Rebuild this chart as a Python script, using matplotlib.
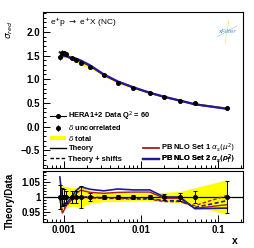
import numpy as np
import matplotlib
matplotlib.use("Agg")
import matplotlib.pyplot as plt
from matplotlib.lines import Line2D
from matplotlib.patches import Patch
from matplotlib.legend_handler import HandlerTuple
from matplotlib.ticker import MultipleLocator, LogLocator, FixedLocator, FixedFormatter, NullFormatter

plt.rcParams['font.family'] = ['Liberation Sans', 'DejaVu Sans']
plt.rcParams['mathtext.fontset'] = 'dejavusans'

# HERA1+2 NC e+p, Q2 = 60
x = [0.00089, 0.00096, 0.001, 0.00106, 0.00126, 0.00143, 0.00166, 0.0022,
     0.0033, 0.005, 0.008, 0.013, 0.02, 0.032, 0.05, 0.13]
sigma = [1.47, 1.56, 1.55, 1.53, 1.45, 1.41, 1.35, 1.26,
         1.08, 0.93, 0.81, 0.70, 0.63, 0.55, 0.49, 0.39]
err_unc = [0.04, 0.03, 0.025, 0.02, 0.02, 0.02, 0.035, 0.012,
           0.008, 0.007, 0.007, 0.007, 0.01, 0.012, 0.02, 0.052]
err_tot = [0.045, 0.04, 0.035, 0.035, 0.03, 0.03, 0.035, 0.02,
           0.015, 0.015, 0.013, 0.013, 0.015, 0.018, 0.03, 0.056]

# theory / data
set1 = [1.00, 0.948, 0.955, 0.97, 0.99, 1.01, 1.022, 1.015,
        1.012, 1.015, 1.016, 1.016, 0.996, 0.996, 0.963, 0.975]
set2 = [1.065, 0.985, 0.97, 0.975, 1.0, 1.02, 1.033, 1.025,
        1.02, 1.026, 1.023, 1.023, 1.0, 1.0, 0.962, 0.964]
set1_shift = [0.99, 0.95, 0.955, 0.97, 0.99, 0.998, 0.998, 0.997,
              0.995, 0.995, 0.993, 0.993, 0.985, 0.985, 0.972, 1.005]
set2_shift = [1.0, 0.975, 0.97, 0.98, 0.995, 1.0, 1.0, 1.0,
              0.997, 0.997, 0.995, 0.995, 0.988, 0.988, 0.966, 0.988]

RED = '#b0191e'
BLUE = '#1c1c9c'

x = np.array(x)
sigma = np.array(sigma)
err_unc = np.array(err_unc)
err_tot = np.array(err_tot)

fig = plt.figure(figsize=(2.55, 2.48), dpi=100)
ax1 = fig.add_axes([0.169, 0.323, 0.784, 0.629])
ax2 = fig.add_axes([0.169, 0.105, 0.784, 0.205])

# main panel
ax1.fill_between(x, sigma * (1 - err_tot), sigma * (1 + err_tot), color='#ffff00', lw=0)
ax1.plot(x, sigma * np.array(set1), color=RED, lw=1.4)
ax1.plot(x, sigma * np.array(set2), color=BLUE, lw=1.6)
ax1.errorbar(x, sigma, yerr=sigma * err_unc, fmt='o', color='k', ms=2.6, lw=0.7, capsize=0)

ax1.set_xscale('log')
ax1.set_xlim(5.4e-4, 0.21)
ax1.set_ylim(-0.87, 2.42)
ax1.yaxis.set_major_locator(MultipleLocator(0.5))
ax1.yaxis.set_minor_locator(MultipleLocator(0.1))
ax1.xaxis.set_major_locator(LogLocator(base=10))
ax1.xaxis.set_minor_locator(LogLocator(base=10, subs=np.arange(2, 10)))
ax1.xaxis.set_major_formatter(NullFormatter())
ax1.xaxis.set_minor_formatter(NullFormatter())

ax1.text(0.035, 0.936, r'e$^{+}$p $\rightarrow$ e$^{+}$X (NC)', transform=ax1.transAxes,
         fontsize=6, va='center', ha='left')

# xFitter logo
ax1.text(0.92, 0.875, 'xFitter', transform=ax1.transAxes, fontsize=4.5, style='italic',
         color='#4a9ad8', ha='center', va='center')
ax1.plot([0.87, 0.97], [0.84, 0.91], transform=ax1.transAxes, color='#9ccbef', lw=0.5)
ax1.plot([0.91, 0.93], [0.80, 0.95], transform=ax1.transAxes, color='#f2e27a', lw=0.5)

# legend: one entry per row so the rows sit where the reference has them
LEG = dict(loc='center left', frameon=False, prop={'size': 5.4, 'weight': 'bold'},
           handlelength=2.1, handletextpad=0.35, borderpad=0, borderaxespad=0,
           handleheight=0.6)
h_data = Line2D([], [], color='k', marker='o', ms=2.6, lw=0.8)
h_unc = (Line2D([], [], color='k', marker='|', ms=5, mew=0.8, ls='none'),
         Line2D([], [], color='k', marker='o', ms=2.6, ls='none'))
h_tot = Patch(color='#ffff00', lw=0)
h_th = Line2D([], [], color='k', lw=1.0)
h_sh = Line2D([], [], color='k', lw=1.0, ls='--', dashes=(2.5, 1.5))
h_r = Line2D([], [], color=RED, lw=1.3)
h_b = Line2D([], [], color=BLUE, lw=1.6)
entries = [
    (h_data, r'HERA1+2 Data Q$^{2}$ = 60', 0.035, 0.33),
    (h_unc, r'$\delta$ uncorrelated', 0.035, 0.258),
    (h_tot, r'$\delta$ total', 0.035, 0.19),
    (h_th, 'Theory', 0.035, 0.124),
    (h_sh, 'Theory + shifts', 0.035, 0.055),
    (h_r, r'PB NLO Set 1 $\alpha_s(\mu^2)$', 0.5, 0.128),
    (h_b, r'PB NLO Set 2 $\alpha_s(p_T^2)$', 0.5, 0.052),
]
for h, lab, lx, ly in entries:
    leg = ax1.legend([h], [lab], handler_map={tuple: HandlerTuple(ndivide=1)},
                     bbox_to_anchor=(lx, ly), **LEG)
    ax1.add_artist(leg)

# ratio panel
ax2.fill_between(x, 1 - err_tot, 1 + err_tot, color='#ffff00', lw=0)
ax2.axhline(1, color='k', lw=0.9)
ax2.plot(x, set1, color=RED, lw=1.0)
ax2.plot(x, set1_shift, color=RED, lw=1.0, ls='--', dashes=(2.5, 1.5))
ax2.plot(x, set2, color=BLUE, lw=1.2)
ax2.plot(x, set2_shift, color=BLUE, lw=1.2, ls='--', dashes=(2.5, 1.5))
ax2.errorbar(x, np.ones_like(x), yerr=err_unc, fmt='o', color='k', ms=2.6, lw=0.7,
             capsize=1.5, capthick=0.7)

ax2.set_xscale('log')
ax2.set_xlim(5.4e-4, 0.21)
ax2.set_ylim(0.919, 1.084)
ax2.yaxis.set_major_locator(FixedLocator([0.95, 1.0, 1.05]))
ax2.yaxis.set_major_formatter(FixedFormatter(['0.95', '1', '1.05']))
ax2.yaxis.set_minor_locator(MultipleLocator(0.01))
ax2.xaxis.set_major_locator(FixedLocator([0.001, 0.01, 0.1]))
ax2.xaxis.set_major_formatter(FixedFormatter(['0.001', '0.01', '0.1']))
ax2.xaxis.set_minor_locator(LogLocator(base=10, subs=np.arange(2, 10)))
ax2.xaxis.set_minor_formatter(NullFormatter())

for ax in (ax1, ax2):
    ax.tick_params(which='both', direction='in', top=False, right=False, width=0.7,
                   labelsize=7, pad=2)
    ax.tick_params(which='major', length=5)
    ax.tick_params(which='minor', length=2.5)
    for lab in ax.get_xticklabels() + ax.get_yticklabels():
        lab.set_fontweight('bold')
    for s in ax.spines.values():
        s.set_linewidth(0.8)

fig.text(0.04, 0.88, r'$\sigma_{red}$', rotation=90, fontsize=6.5, ha='center', va='center')
fig.text(0.04, 0.19, 'Theory/Data', rotation=90, fontsize=7, fontweight='bold',
         ha='center', va='center')
fig.text(0.922, 0.028, 'x', fontsize=7.5, fontweight='bold', ha='center', va='center')

fig.savefig('out.png', dpi=100)
